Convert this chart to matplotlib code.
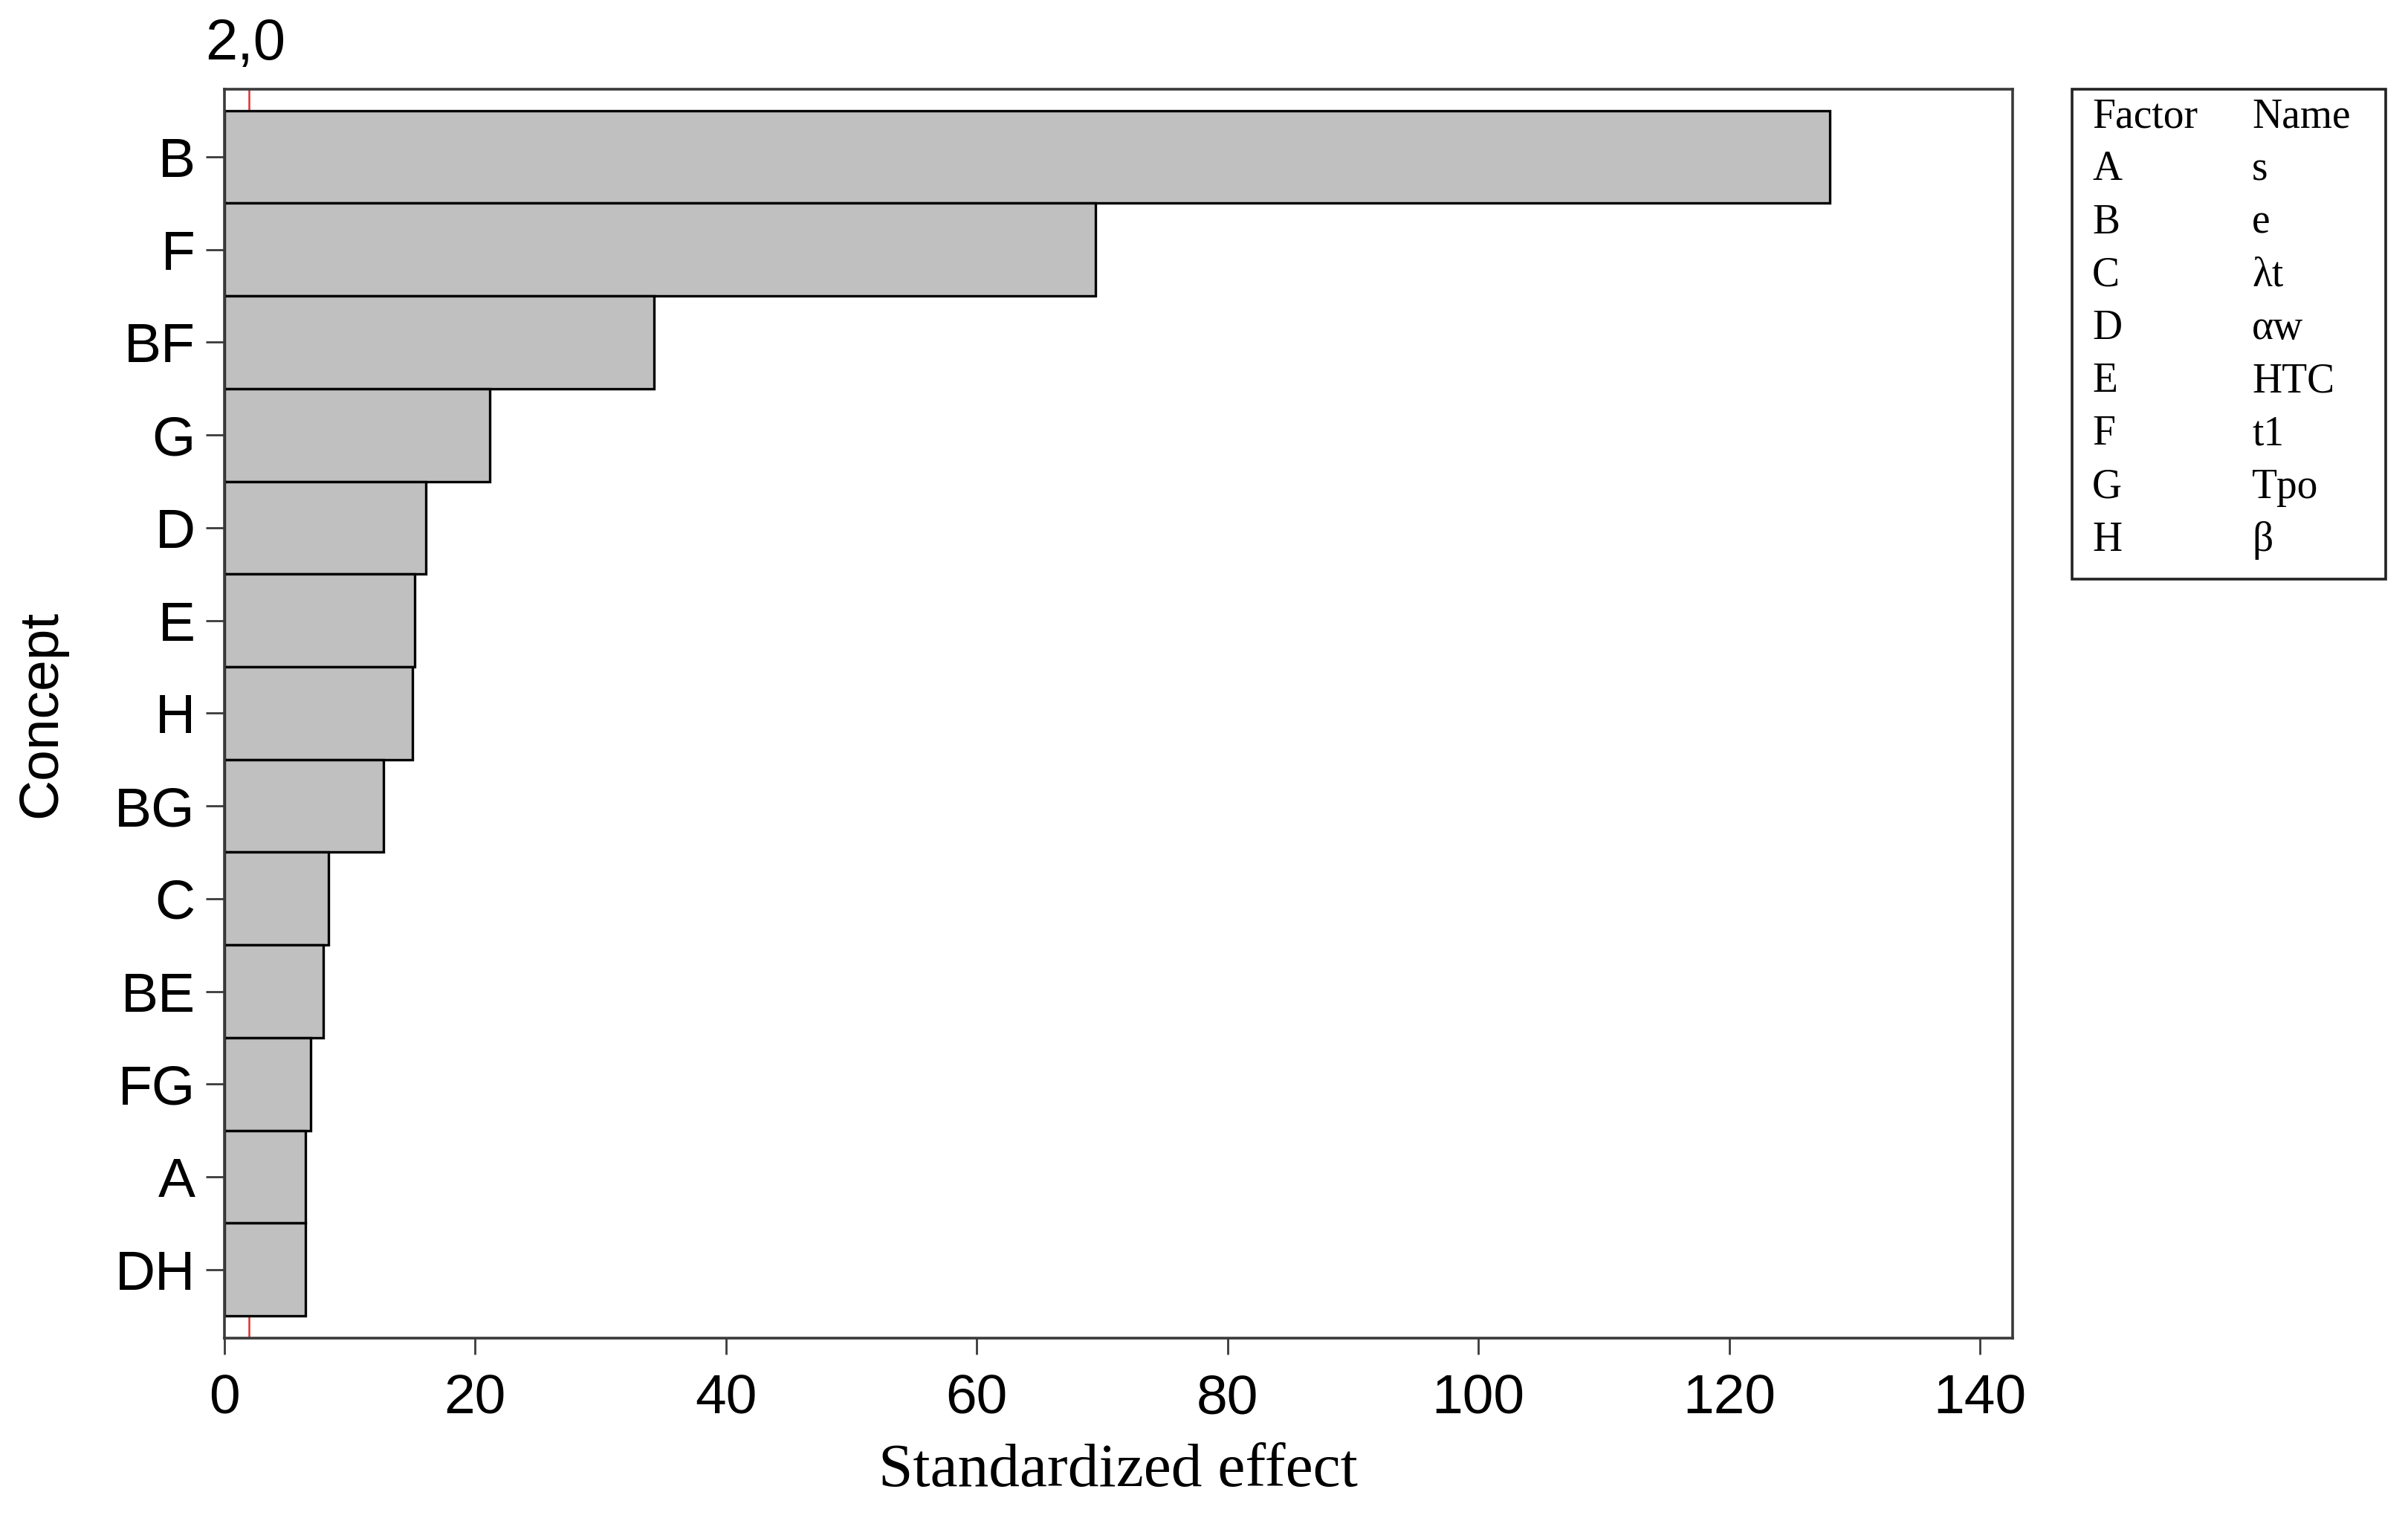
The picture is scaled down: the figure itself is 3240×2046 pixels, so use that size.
"""Pareto chart of standardized effects (bars + 2,0 reference line + factor table)."""

import matplotlib

matplotlib.use("Agg")
import matplotlib.pyplot as plt
from matplotlib.patches import Rectangle
from matplotlib.transforms import blended_transform_factory

# data, top bar first
terms = ["B", "F", "BF", "G", "D", "E", "H", "BG", "C", "BE", "FG", "A", "DH"]
effects = [128.0, 69.5, 34.3, 21.2, 16.1, 15.2, 15.0, 12.7, 8.3, 7.9, 6.9, 6.5, 6.45]
threshold = 2.0
threshold_label = "2,0"
x_ticks = [0, 20, 40, 60, 80, 100, 120, 140]

factor_codes = ["A", "B", "C", "D", "E", "F", "G", "H"]
factor_names = ["s", "e", "λt", "αw", "HTC", "t1", "Tpo", "β"]

SANS = ["Liberation Sans", "DejaVu Sans"]
SERIF = ["Liberation Serif", "DejaVu Serif"]
SPINE_COLOR = "#3a3a3a"

fig = plt.figure(figsize=(16.205, 10.23), dpi=200)
ax = fig.add_axes([0.0931, 0.1202, 0.7424, 0.8212])

ypos = list(range(len(terms)))
ax.barh(ypos, effects, height=1.0, color="#c0c0c0", edgecolor="black", linewidth=1.2, zorder=2)
ax.axvline(threshold, color="#e03030", linewidth=0.9, zorder=1)

ax.set_xlim(0, 142.6)
ax.set_ylim(len(terms) - 0.5 + 0.24, -0.5 - 0.23)
ax.set_xticks(x_ticks)
ax.set_xticklabels([str(v) for v in x_ticks], family=SANS, fontsize=27)
ax.set_yticks(ypos)
ax.set_yticklabels(terms, family=SANS, fontsize=27)
ax.tick_params(axis="y", length=9, width=1.0, pad=5, color=SPINE_COLOR)
ax.tick_params(axis="x", length=8, width=1.0, pad=9, color=SPINE_COLOR)

for spine in ax.spines.values():
    spine.set_color(SPINE_COLOR)
    spine.set_linewidth(1.3)

ax.set_xlabel("Standardized effect", family=SERIF, fontsize=30, labelpad=9)
ax.set_ylabel("Concept", family=SANS, fontsize=27, labelpad=23)

trans = blended_transform_factory(ax.transData, ax.transAxes)
ax.text(threshold - 0.3, 1.014, threshold_label, transform=trans, ha="center", va="bottom",
        family=SANS, fontsize=28)

# factor / name table on the right
box_l, box_r, box_b, box_t = 0.8603, 0.9904, 0.6192, 0.9414
fig.patches.append(Rectangle((box_l, box_b), box_r - box_l, box_t - box_b, transform=fig.transFigure,
                             fill=False, edgecolor="#222222", linewidth=1.3))
col1, col2 = 0.8686, 0.9349
row_top, row_step = 0.9232, 0.0348
fig.text(col1, row_top, "Factor", family=SERIF, fontsize=20, va="center", ha="left")
fig.text(col2, row_top, "Name", family=SERIF, fontsize=20, va="center", ha="left")
for i, (code, name) in enumerate(zip(factor_codes, factor_names)):
    y = row_top - row_step * (i + 1)
    fig.text(col1, y, code, family=SERIF, fontsize=20, va="center", ha="left")
    fig.text(col2, y, name, family=SERIF, fontsize=20, va="center", ha="left")

fig.savefig("out.png", dpi=200)
